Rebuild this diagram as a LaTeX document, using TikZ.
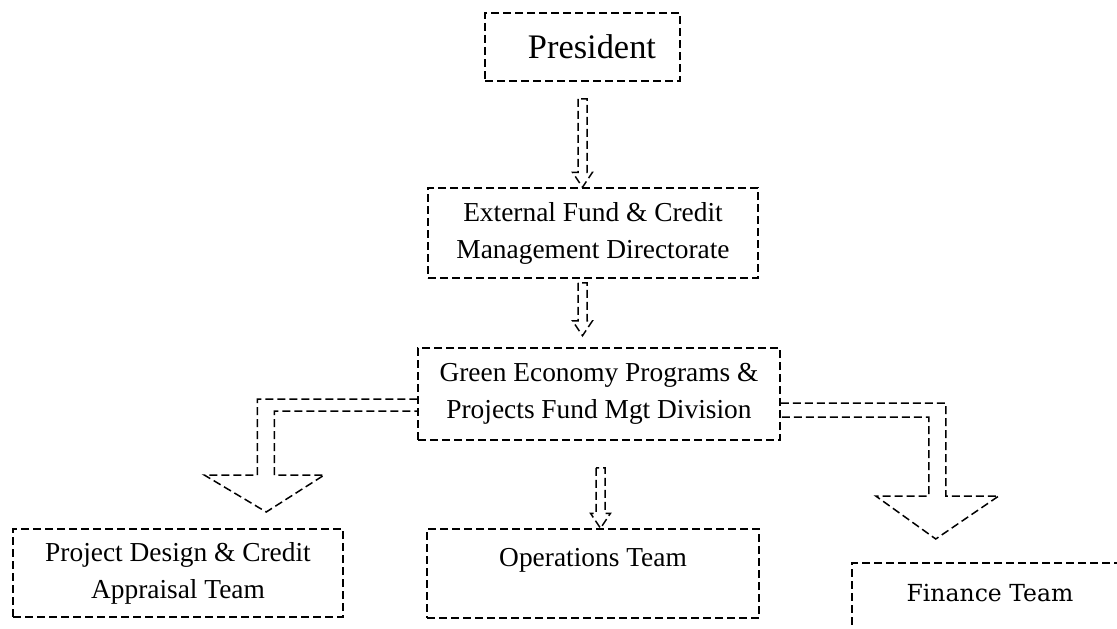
\documentclass[tikz,border=0pt]{standalone}
\usepackage{fontspec}
\setmainfont{Liberation Serif}
\newfontfamily\finfont{DejaVu Serif}
\usetikzlibrary{calc}

\tikzset{
  unit/.style={draw, line width=1.5pt, dash pattern=on 8pt off 4pt, align=center,
    inner sep=0pt, font=\fontsize{27.4}{37}\selectfont},
  flow/.style={line width=1.5pt, dash pattern=on 8pt off 4pt}
}

% hollow down arrow: shaft starts at #1, tip at #2
\newcommand{\hollowdown}[2]{%
  \draw[flow] let \p1=#1, \p2=#2 in
    (\x1-4.5pt,\y1) -- (\x1-4.5pt,\y2+15pt) -- (\x1-10pt,\y2+15pt) -- (\x1,\y2)
    -- (\x1+10pt,\y2+15pt) -- (\x1+4.5pt,\y2+15pt) -- (\x1+4.5pt,\y1) -- cycle;}

\begin{document}
\begin{tikzpicture}[x=1pt, y=-1pt]
\useasboundingbox (0,0) rectangle (1117,629);
\clip (0,0) rectangle (1117,629);

\node[unit, minimum width=195pt, minimum height=68pt, font=\fontsize{34.4}{40}\selectfont] (president) at (582.5,47) {\hspace*{19pt}President};
\node[unit, minimum width=330pt, minimum height=90pt] (efcmd) at (593,233) {External Fund \& Credit\\Management Directorate};
\node[unit, minimum width=362pt, minimum height=92pt] (geppf) at (599,394) {Green Economy Programs \&\\Projects Fund Mgt Division};

\node[unit, minimum width=330pt, minimum height=88pt] (pdcat) at (178,573) {Project Design \& Credit\\Appraisal Team};
\node[unit, minimum width=332pt, minimum height=89pt] (ops) at (593,573.5) {Operations Team\\[-16pt]\strut};
\node[unit, minimum width=276pt, minimum height=90pt, font=\finfont\fontsize{23.5}{37}\selectfont] (fin) at (990,608) {Finance Team\\[-18pt]\strut};

% straight links
\coordinate (opsin) at ($(geppf.south)+(1.5,0)$);
\hollowdown{($(president.south)+(0,17)$)}{(president.south |- efcmd.north)}
\hollowdown{($(efcmd.south)+(-10.5,4)$)}{($(efcmd.south)+(-10.5,57)$)}
\hollowdown{($(opsin)+(0,27)$)}{(opsin |- ops.north)}

% elbow links
\draw[flow] ($(geppf.west)+(0,5)$) -- ++(-160,0) -- ++(0,76) -- ++(-53,0) -- ++(62,37)
  -- ++(58,-37) -- ++(-50,0) -- ++(0,-64) -- ++(143,0);
\draw[flow] ($(geppf.east)+(0,9)$) -- ++(165,0) -- ++(0,93) -- ++(53,0) -- ++(-63,43)
  -- ++(-60,-43) -- ++(53,0) -- ++(0,-79) -- ++(-148,0);
\end{tikzpicture}
\end{document}
